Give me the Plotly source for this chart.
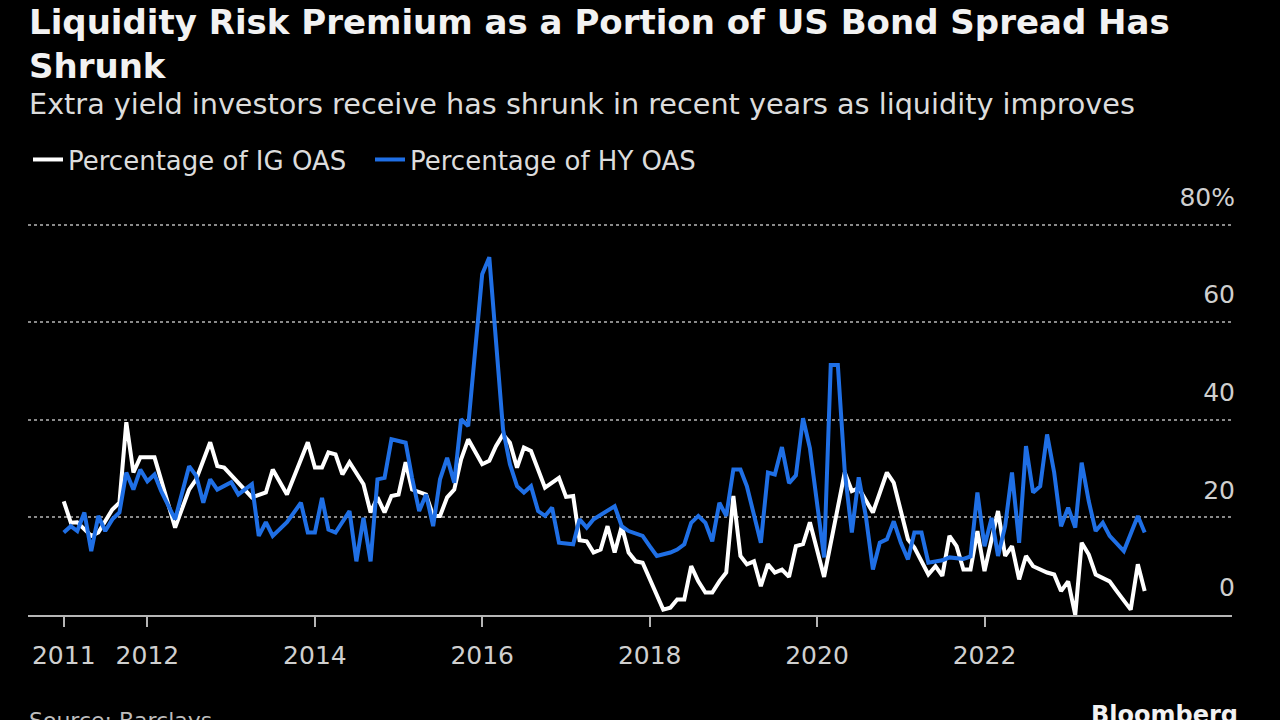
import plotly.graph_objects as go

# ---- data ----
ig_dates = ["2011-01", "2011-02", "2011-03", "2011-05", "2011-06", "2011-08", "2011-09", "2011-10",
            "2011-11", "2011-12", "2012-02", "2012-05", "2012-07", "2012-08", "2012-10", "2012-11",
            "2012-12", "2013-04", "2013-06", "2013-07", "2013-09", "2013-10", "2013-12", "2014-01",
            "2014-02", "2014-03", "2014-04", "2014-05", "2014-06", "2014-08", "2014-09", "2014-10",
            "2014-11", "2014-12", "2015-01", "2015-02", "2015-03", "2015-05", "2015-06", "2015-07",
            "2015-08", "2015-09", "2015-10", "2015-11", "2016-01", "2016-02", "2016-03", "2016-04",
            "2016-05", "2016-06", "2016-07", "2016-08", "2016-10", "2016-12", "2017-01", "2017-02",
            "2017-03", "2017-04", "2017-05", "2017-06", "2017-07", "2017-08", "2017-09", "2017-10",
            "2017-11", "2017-12", "2018-03", "2018-04", "2018-05", "2018-06", "2018-07", "2018-08",
            "2018-09", "2018-10", "2018-11", "2018-12", "2019-01", "2019-02", "2019-03", "2019-04",
            "2019-05", "2019-06", "2019-07", "2019-08", "2019-09", "2019-10", "2019-11", "2019-12",
            "2020-01", "2020-02", "2020-05", "2020-06", "2020-07", "2020-09", "2020-11", "2020-12",
            "2021-02", "2021-03", "2021-05", "2021-06", "2021-07", "2021-08", "2021-09", "2021-10",
            "2021-11", "2021-12", "2022-01", "2022-03", "2022-04", "2022-05", "2022-06", "2022-07",
            "2022-08", "2022-10", "2022-11", "2022-12", "2023-01", "2023-02", "2023-03", "2023-04",
            "2023-05", "2023-07", "2023-08", "2023-10", "2023-11", "2023-12"]
ig_values = [23.3, 18.9, 19.0, 16.2, 16.9, 21.6, 23.0, 39.5,
             29.2, 32.3, 32.3, 17.9, 25.7, 27.8, 35.4, 30.5,
             30.2, 24.1, 25.1, 29.8, 24.7, 28.2, 35.4, 30.2,
             30.2, 33.3, 32.9, 28.8, 31.3, 26.8, 21.0, 24.1,
             21.0, 24.4, 24.7, 31.3, 25.7, 24.7, 20.3, 20.3,
             24.1, 25.7, 31.9, 36.0, 30.9, 31.6, 34.6, 37.0,
             35.3, 30.2, 34.3, 33.6, 26.1, 28.1, 24.2, 24.4,
             15.3, 15.1, 12.8, 13.4, 18.2, 12.8, 18.2, 12.8,
             11.0, 10.7, 1.1, 1.5, 3.2, 3.2, 10.0, 6.9,
             4.6, 4.6, 6.9, 8.7, 24.4, 12.1, 10.4, 11.0,
             5.9, 10.4, 8.7, 9.3, 7.8, 14.1, 14.5, 19.0,
             13.7, 7.8, 29.2, 25.4, 26.0, 21.0, 29.2, 27.1,
             15.5, 13.8, 8.3, 10.0, 8.0, 16.2, 14.1, 9.3,
             9.3, 17.2, 9.0, 21.3, 12.1, 14.1, 7.3, 12.1,
             10.0, 8.7, 8.3, 4.9, 6.9, 0.0, 14.8, 12.4,
             8.3, 6.9, 4.9, 1.1, 10.4, 4.9]

hy_dates = ["2011-01", "2011-02", "2011-03", "2011-04", "2011-05", "2011-06", "2011-07", "2011-08",
            "2011-09", "2011-10", "2011-11", "2011-12", "2012-01", "2012-02", "2012-03", "2012-05",
            "2012-07", "2012-08", "2012-09", "2012-10", "2012-11", "2013-01", "2013-02", "2013-04",
            "2013-05", "2013-06", "2013-07", "2013-09", "2013-11", "2013-12", "2014-01", "2014-02",
            "2014-03", "2014-04", "2014-06", "2014-07", "2014-08", "2014-09", "2014-10", "2014-11",
            "2014-12", "2015-02", "2015-03", "2015-04", "2015-05", "2015-06", "2015-07", "2015-08",
            "2015-09", "2015-10", "2015-11", "2016-01", "2016-02", "2016-04", "2016-05", "2016-06",
            "2016-07", "2016-08", "2016-09", "2016-10", "2016-11", "2016-12", "2017-02", "2017-03",
            "2017-04", "2017-05", "2017-08", "2017-09", "2017-10", "2017-12", "2018-01", "2018-02",
            "2018-04", "2018-05", "2018-06", "2018-07", "2018-08", "2018-09", "2018-10", "2018-11",
            "2018-12", "2019-01", "2019-02", "2019-03", "2019-05", "2019-06", "2019-07", "2019-08",
            "2019-09", "2019-10", "2019-11", "2019-12", "2020-02", "2020-03", "2020-04", "2020-05",
            "2020-06", "2020-07", "2020-08", "2020-09", "2020-10", "2020-11", "2020-12", "2021-01",
            "2021-02", "2021-03", "2021-04", "2021-05", "2021-07", "2021-08", "2021-10", "2021-11",
            "2021-12", "2022-01", "2022-02", "2022-03", "2022-04", "2022-05", "2022-06", "2022-07",
            "2022-08", "2022-09", "2022-10", "2022-11", "2022-12", "2023-01", "2023-02", "2023-03",
            "2023-04", "2023-05", "2023-06", "2023-07", "2023-09", "2023-11", "2023-12"]
hy_values = [16.9, 18.2, 17.2, 21.0, 13.1, 20.3, 17.2, 19.6,
             21.0, 29.2, 25.7, 29.8, 27.4, 28.8, 25.4, 19.6,
             30.5, 28.5, 23.0, 27.8, 25.7, 27.2, 24.7, 26.8,
             16.2, 19.0, 16.2, 19.0, 23.0, 16.9, 16.9, 24.0,
             17.5, 16.9, 21.3, 11.0, 19.9, 11.0, 27.8, 28.1,
             36.0, 35.3, 28.1, 21.3, 24.7, 18.2, 27.8, 32.2,
             27.1, 40.1, 38.7, 69.8, 73.3, 38.0, 30.9, 26.4,
             25.1, 26.4, 21.3, 20.3, 22.0, 14.8, 14.5, 19.6,
             17.9, 19.6, 22.3, 18.2, 17.2, 16.2, 14.1, 12.1,
             12.8, 13.4, 14.5, 18.9, 20.3, 18.9, 15.1, 23.0,
             20.3, 29.8, 29.8, 26.4, 14.8, 29.2, 28.8, 34.4,
             27.0, 28.6, 40.3, 34.2, 11.8, 51.2, 51.2, 29.5,
             16.9, 28.2, 20.3, 9.3, 14.8, 15.5, 19.2, 14.8,
             11.4, 16.9, 16.9, 10.7, 11.2, 11.8, 11.5, 12.0,
             25.1, 14.1, 19.9, 12.1, 18.2, 29.2, 14.8, 34.6,
             25.1, 26.4, 37.0, 29.2, 18.2, 22.0, 17.9, 31.2,
             23.3, 17.2, 18.9, 16.2, 13.1, 20.3, 16.9]

x_tick_vals = ["2011-01-01", "2012-01-01", "2014-01-01", "2016-01-01",
               "2018-01-01", "2020-01-01", "2022-01-01"]
x_tick_text = ["2011", "2012", "2014", "2016", "2018", "2020", "2022"]
y_tick_vals = [0, 20, 40, 60, 80]
y_tick_text = ["0", "20", "40", "60", "80%"]

title_line1 = "Liquidity Risk Premium as a Portion of US Bond Spread Has"
title_line2 = "Shrunk"
subtitle = "Extra yield investors receive has shrunk in recent years as liquidity improves"
source = "Source: Barclays"
brand = "Bloomberg"

BLUE = "#1f6fe5"
FONT = "DejaVu Sans"

# ---- layout geometry (pixels) ----
W, H = 1280, 720
Y0_PX, Y80_PX = 615.5, 225.0          # pixel rows of 0 and 80 on the value axis
Y_TOP = 92.0                          # upper end of the value axis range
px_per_unit = (Y0_PX - Y80_PX) / 80.0
L, R = 28, 48
B = H - Y0_PX
T = Y0_PX - Y_TOP * px_per_unit
plot_h = H - T - B


def py(y_px):
    """Convert a pixel row to paper y."""
    return (H - B - y_px) / plot_h


fig = go.Figure()
fig.add_trace(go.Scatter(x=ig_dates, y=ig_values, mode="lines", name="Percentage of IG OAS",
                         line=dict(color="#ffffff", width=4)))
fig.add_trace(go.Scatter(x=hy_dates, y=hy_values, mode="lines", name="Percentage of HY OAS",
                         line=dict(color=BLUE, width=4)))

fig.update_layout(
    width=W, height=H,
    margin=dict(l=L, r=R, t=T, b=B, pad=0),
    paper_bgcolor="#000000", plot_bgcolor="#000000",
    font=dict(family=FONT, color="#cfcfcf", size=24),
    showlegend=True,
    legend=dict(orientation="h", x=0.0, xanchor="left", y=py(160), yanchor="middle",
                font=dict(size=26, color="#dcdcdc"), bgcolor="rgba(0,0,0,0)",
                entrywidth=297, entrywidthmode="pixels", tracegroupgap=0),
    xaxis=dict(type="date", range=["2010-07-29", "2024-12-16"],
               tickvals=x_tick_vals, ticktext=x_tick_text,
               showgrid=False, zeroline=False,
               showline=True, linecolor="#b5b5b5", linewidth=2,
               ticks="outside", ticklen=10, tickwidth=1.5, tickcolor="#b5b5b5",
               ticklabelstandoff=7,
               tickfont=dict(size=25, color="#cfcfcf")),
    yaxis=dict(range=[0, Y_TOP], side="right", tickvals=y_tick_vals, ticktext=y_tick_text,
               showgrid=True, gridcolor="#8a8a8a", griddash="dot", gridwidth=1.5,
               zeroline=False, showline=False, ticks="",
               ticklabelposition="inside top", ticklabelstandoff=-6, ticklabelshift=-10,
               tickfont=dict(size=25, color="#cfcfcf")),
    annotations=[
        dict(text="<b>" + title_line1 + "<br>" + title_line2 + "</b>", xref="paper", yref="paper",
             x=0, y=py(0), xanchor="left", yanchor="top", align="left", showarrow=False,
             xshift=-1, font=dict(size=34, color="#f2f2f2", family=FONT)),
        dict(text=subtitle, xref="paper", yref="paper", x=0, y=py(104), xanchor="left",
             yanchor="middle", showarrow=False, xshift=-1,
             font=dict(size=28.7, color="#dcdcdc", family=FONT)),
        dict(text=source, xref="paper", yref="paper", x=0, y=py(707), xanchor="left",
             yanchor="top", showarrow=False, xshift=-1,
             font=dict(size=22, color="#bdbdbd", family=FONT)),
        dict(text="<b>" + brand + "</b>", xref="paper", yref="paper", x=1, y=py(700),
             xanchor="right", yanchor="top", showarrow=False, xshift=R - 40,
             font=dict(size=24, color="#f2f2f2", family=FONT)),
    ],
)

fig.write_html("out.html")
